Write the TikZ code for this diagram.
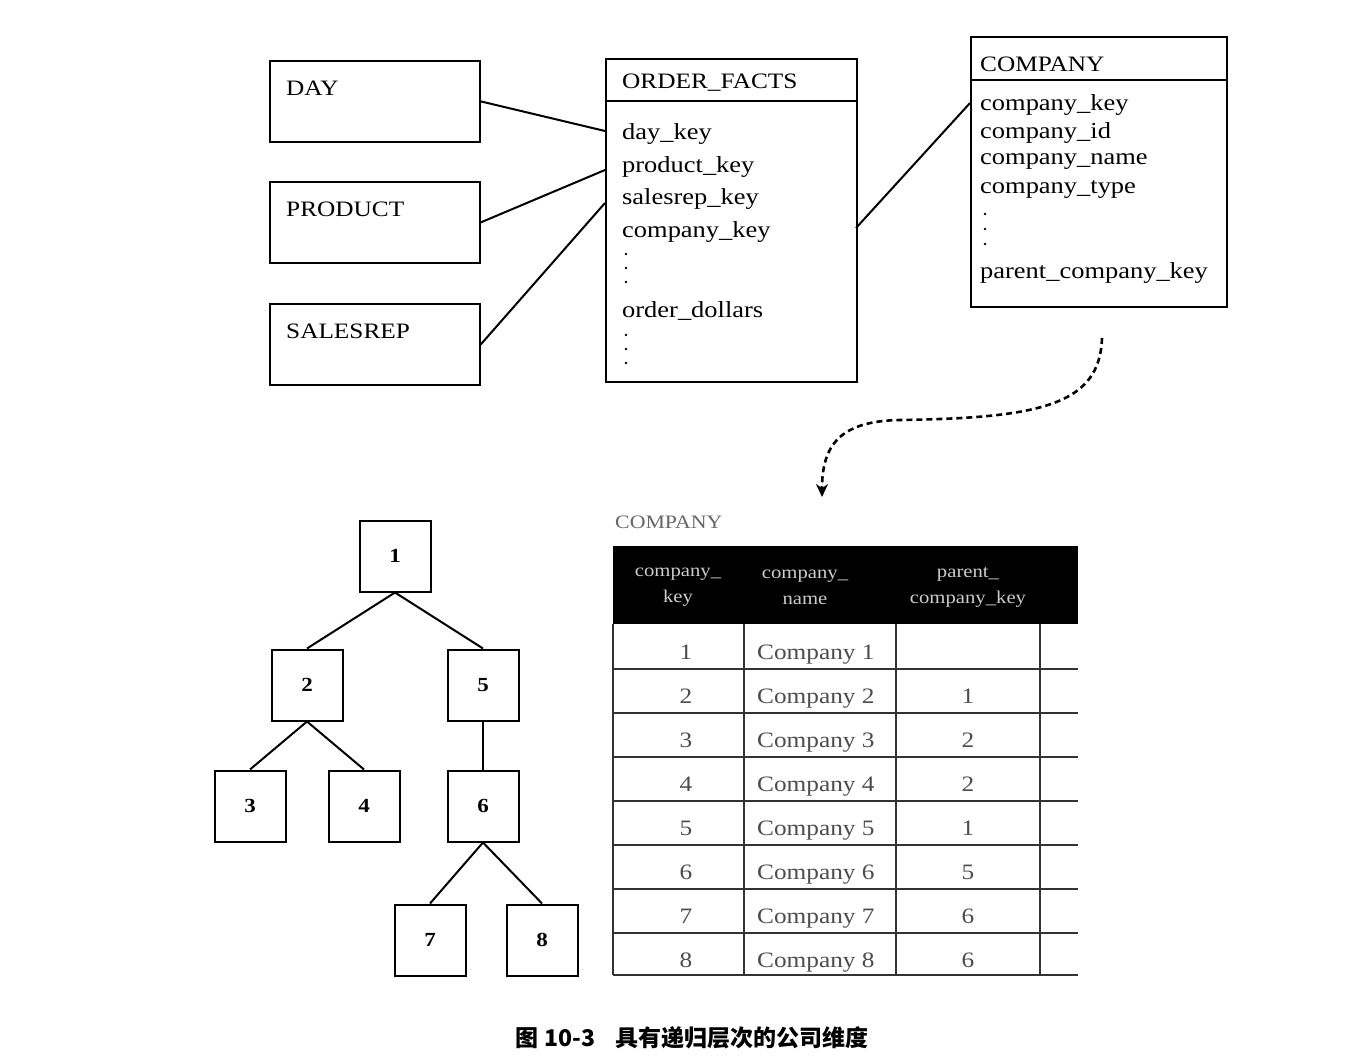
\documentclass[tikz,border=0pt]{standalone}
\usepackage{fontspec}
\setmainfont{Liberation Serif}[FakeStretch=1.15]
\newfontfamily\cjk{Noto Sans CJK SC}
\usetikzlibrary{arrows.meta}
\begin{document}
\begin{tikzpicture}[x=1pt,y=-1pt,
  box/.style={draw, line width=1.8pt, anchor=north west, inner sep=0pt},
  lbl/.style={anchor=west, inner sep=0pt, font=\fontsize{22}{26}\selectfont},
  item/.style={anchor=west, inner sep=0pt, font=\fontsize{23}{26}\selectfont},
  dot/.style={circle, fill=black, inner sep=0pt, minimum size=2.6pt},
  link/.style={line width=2pt},
  tnode/.style={draw, line width=2pt, minimum size=71pt, inner sep=0pt, font=\fontsize{20}{24}\selectfont\bfseries},
  tline/.style={line width=2pt},
  grid/.style={line width=1.6pt, black!80},
  hdr/.style={text=white!80!black, align=center, font=\fontsize{18}{26}\selectfont, inner sep=0pt},
  cell/.style={inner sep=0pt, anchor=base, font=\fontsize{22}{26}\selectfont, text=black!70},
]
\useasboundingbox (0,0) rectangle (1368,1064);
\fill[white] (0,0) rectangle (1368,1064);

% ---- dimension boxes
\node[box, minimum width=210pt, minimum height=81pt] (day) at (269,60) {};
\node[lbl] (daylbl) at (286,88) {DAY};
\node[box, minimum width=210pt, minimum height=81pt] (prod) at (269,181) {};
\node[lbl] (prodlbl) at (286,209) {PRODUCT};
\node[box, minimum width=210pt, minimum height=81pt] (srep) at (269,303) {};
\node[lbl] (sreplbl) at (286,331) {SALESREP};

% ---- ORDER_FACTS
\node[box, minimum width=251pt, minimum height=323pt] (of) at (605,58) {};
\draw[line width=1.8pt] (605,101) -- (856,101);
\node[lbl] (oft) at (622,83) {ORDER\_FACTS};
\node[item] (of1) at (622,134) {day\_key};
\node[item] (of2) at (622,167) {product\_key};
\node[item] (of3) at (622,199) {salesrep\_key};
\node[item] (of4) at (622,232) {company\_key};
\node[dot] (of5) at (626,254) {};
\node[dot] (of6) at (626,268) {};
\node[dot] (of7) at (626,282) {};
\node[item] (of8) at (622,311) {order\_dollars};
\node[dot] (of9) at (626,335) {};
\node[dot] (of10) at (626,349) {};
\node[dot] (of11) at (626,363) {};

% ---- COMPANY
\node[box, minimum width=256pt, minimum height=270pt] (co) at (970,36) {};
\draw[line width=1.8pt] (970,80) -- (1226,80);
\node[lbl] (cot) at (980,64) {COMPANY};
\node[item] (co1) at (980,105) {company\_key};
\node[item] (co2) at (980,133) {company\_id};
\node[item] (co3) at (980,162) {company\_name};
\node[item] (co4) at (980,190) {company\_type};
\node[dot] (co5) at (985,214) {};
\node[dot] (co6) at (985,229) {};
\node[dot] (co7) at (985,244) {};
\node[item] (co8) at (980,273) {parent\_company\_key};

% ---- links
\coordinate (ofA) at (605,131);
\coordinate (ofB) at (605,170);
\coordinate (ofC) at (605,203);
\coordinate (ofR) at (856,228);
\coordinate (coL) at (970,103);
\draw[link] (day.east) -- (ofA);
\draw[link] (prod.east) -- (ofB);
\draw[link] (srep.east) -- (ofC);
\draw[link] (ofR) -- (coL);

% ---- dashed curve
\coordinate (cs) at (1102,338);
\coordinate (ce) at (822,497);
\draw[line width=2.6pt, dash pattern=on 6pt off 4pt, -{Stealth[length=13pt,width=12pt]}]
  (cs) .. controls (1100,405) and (1040,418) .. (900,420)
  .. controls (840,421) and (822,445) .. (ce);

% ---- table
\node[anchor=west, inner sep=0pt, text=black!60, font=\fontsize{19}{23}\selectfont] (tlbl) at (615,522) {COMPANY};
\fill[black] (613,546) rectangle (1078,624);
\node[hdr] (h1) at (678,587) {company\_\\key};
\node[hdr] (h2) at (805,587) {company\_\\name};
\node[hdr] (h3) at (968,587) {parent\_\\company\_key};

\foreach \yy in {669,713,757,801,845,889,933,975} {
  \draw[grid] (613,\yy) -- (1078,\yy);
}
\foreach \xx in {613,744,896,1040} {
  \draw[grid] (\xx,624) -- (\xx,975);
}
\foreach \k/\p [count=\i from 0] in {1/,2/1,3/2,4/2,5/1,6/5,7/6,8/6} {
  \pgfmathsetmacro{\yc}{659+44*\i}
  \node[cell] (k\k) at (686,\yc) {\k};
  \node[cell, anchor=base west] (n\k) at (757,\yc) {Company \k};
  \node[cell] (p\k) at (968,\yc) {\p};
}

% ---- tree
\node[tnode] (t1) at (395,556) {1};
\node[tnode] (t2) at (307,685) {2};
\node[tnode] (t5) at (483,685) {5};
\node[tnode] (t3) at (250,806) {3};
\node[tnode] (t4) at (364,806) {4};
\node[tnode] (t6) at (483,806) {6};
\node[tnode] (t7) at (430,940) {7};
\node[tnode] (t8) at (542,940) {8};
\draw[tline] (t1.south) -- (t2.north);
\draw[tline] (t1.south) -- (t5.north);
\draw[tline] (t2.south) -- (t3.north);
\draw[tline] (t2.south) -- (t4.north);
\draw[tline] (t5.south) -- (t6.north);
\draw[tline] (t6.south) -- (t7.north);
\draw[tline] (t6.south) -- (t8.north);

% ---- caption
\node[inner sep=0pt, font=\fontsize{23}{27}\selectfont\cjk\bfseries] (cap) at (692,1038) {图 10-3\hspace{20pt}具有递归层次的公司维度};
\end{tikzpicture}
\end{document}
